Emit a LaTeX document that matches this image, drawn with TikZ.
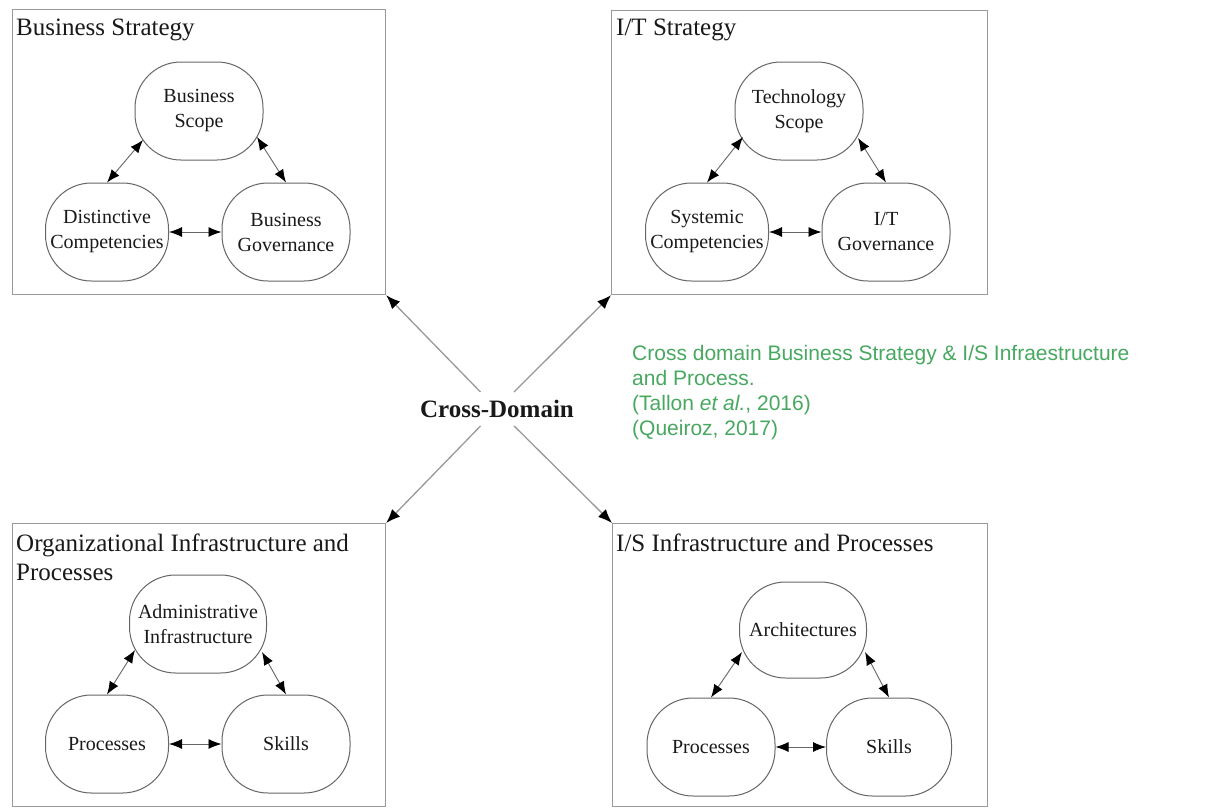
\documentclass[tikz,border=0pt]{standalone}
\usepackage{fontspec}
\setmainfont{Liberation Serif}
\newfontfamily\notefont{Liberation Sans}
\usetikzlibrary{arrows.meta,calc}
\definecolor{notegreen}{RGB}{72,168,96}

\begin{document}
\begin{tikzpicture}[x=1pt,y=-1pt,
  panel/.style={draw=black!40, line width=1.2pt, rectangle, inner sep=0pt, anchor=north west},
  paneltitle/.style={inner sep=0pt, anchor=north west, align=left, text=black!90,
    font=\fontsize{25}{29}\selectfont},
  bubble/.style={draw=black!60, line width=1pt, rectangle, rounded corners=46pt,
    minimum width=128pt, minimum height=98pt, inner sep=0pt, align=center,
    text=black!90, font=\fontsize{20}{25}\selectfont},
  tie/.style={draw=black!60, line width=0.9pt,
    {Latex[length=13pt,width=10pt,color=black]}-{Latex[length=13pt,width=10pt,color=black]}},
  crossarrow/.style={draw=black!40, line width=1.3pt,
    -{Latex[length=14pt,width=11pt,color=black]}}]

\useasboundingbox[fill=white] (0,0) rectangle (1214,808);

% the four domains
\node[panel, minimum width=373pt, minimum height=285pt] (bs)  at (12,9)   {};
\node[panel, minimum width=376pt, minimum height=284pt] (its) at (611,10) {};
\node[panel, minimum width=373pt, minimum height=283pt] (oip) at (12,523) {};
\node[panel, minimum width=375pt, minimum height=283pt] (isp) at (612,523) {};

\node[paneltitle] (bst)  at (16,19)   {Business Strategy};
\node[paneltitle] (itst) at (616,19)  {I/T Strategy};
\node[paneltitle] (oipt) at (16,534)  {Organizational Infrastructure and\\Processes};
\node[paneltitle] (ispt) at (616,534) {I/S Infrastructure and Processes};

% Business Strategy
\node[bubble] (bsc) at (199,111) {Business\\Scope};
\node[bubble, minimum width=123pt] (dc) at (107,232) {Distinctive\\Competencies};
\node[bubble] (bg) at (286,232) {Business\\Governance};
\coordinate (bsc-l) at ($(bsc.center)+(-56,29)$);
\coordinate (bsc-r) at ($(bsc.center)+(58,26)$);
\draw[tie] (dc.north) -- (bsc-l);
\draw[tie] (bsc-r) -- (bg.north);
\draw[tie] (dc.east) -- (bg.west);

% I/T Strategy
\node[bubble] (tsc) at (799,111) {Technology\\Scope};
\node[bubble, minimum width=123pt] (sc) at (707,232) {Systemic\\Competencies};
\node[bubble] (itg) at (886,232) {I/T\\Governance};
\coordinate (tsc-l) at ($(tsc.center)+(-56,26)$);
\coordinate (tsc-r) at ($(tsc.center)+(59,27)$);
\draw[tie] (sc.north) -- (tsc-l);
\draw[tie] (tsc-r) -- (itg.north);
\draw[tie] (sc.east) -- (itg.west);

% Organizational Infrastructure and Processes
\node[bubble, minimum width=137pt] (adm) at (198,624) {Administrative\\Infrastructure};
\node[bubble, minimum width=123pt] (pra) at (107,744) {Processes};
\node[bubble] (ska) at (286,744) {Skills};
\coordinate (adm-l) at ($(adm.center)+(-63,26)$);
\coordinate (adm-r) at ($(adm.center)+(64,28)$);
\draw[tie] (pra.north) -- (adm-l);
\draw[tie] (adm-r) -- (ska.north);
\draw[tie] (pra.east) -- (ska.west);

% I/S Infrastructure and Processes
\node[bubble, minimum width=127pt, minimum height=96pt] (arc) at (803,630) {Architectures};
\node[bubble] (prb) at (711,747) {Processes};
\node[bubble, minimum width=125pt] (skb) at (889,747) {Skills};
\coordinate (arc-l) at ($(arc.center)+(-61,22)$);
\coordinate (arc-r) at ($(arc.center)+(62,22)$);
\draw[tie] (prb.north) -- (arc-l);
\draw[tie] (arc-r) -- (skb.north);
\draw[tie] (prb.east) -- (skb.west);

% cross-domain links
\node[inner sep=8pt, text=black!90, font=\bfseries\fontsize{25}{30}\selectfont] (cd) at (497,409) {Cross-Domain};
\draw[crossarrow] (cd) -- (bs.south east);
\draw[crossarrow] (cd) -- (its.south west);
\draw[crossarrow] (cd) -- (oip.north east);
\draw[crossarrow] (cd) -- (isp.north west);

% note
\node[inner sep=0pt, anchor=north west, align=left, text=notegreen,
  font=\notefont\fontsize{21}{25}\selectfont] (note) at (632,345)
  {Cross domain Business Strategy \& I/S Infraestructure\\and Process.\\(Tallon \textit{et al.}, 2016)\\(Queiroz, 2017)};

\end{tikzpicture}
\end{document}
